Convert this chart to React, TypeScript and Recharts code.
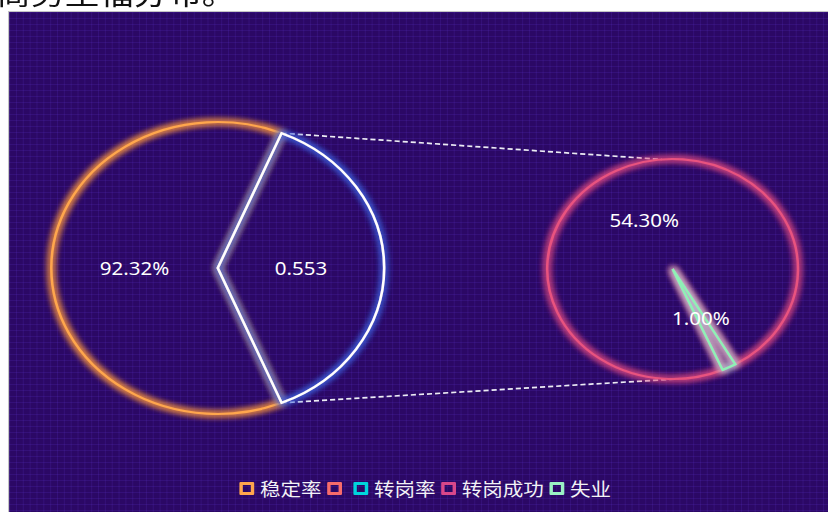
import React from "react";
import { PieChart, Pie, Cell, Legend, Customized } from "recharts";

// 岗位稳定情况（左）与转岗去向（右）
const stableNames = ["稳定率", "转岗率"];
const stableValues = [0.9232, 0.553];
const moveNames = ["转岗成功", "失业"];
const moveValues = [54.3, 1.0];

const legendNames = ["稳定率", "", "转岗率", "转岗成功", "失业"];
const legendColors = ["#ffa64d", "#f76b6b", "#00d4dc", "#d9478a", "#9af2c4"];

const stableStroke = ["#ffa64d", "#ffffff"];
const stableGlow = ["#ff9a3c", "#3d63e0"];
const moveStroke = ["#e8527f", "#8ff0b6"];
const moveGlow = ["#e04a80", "#b8b8cc"];

const stableData = stableNames.map((name, i) => ({ name, value: stableValues[i] }));
const moveData = moveNames.map((name, i) => ({ name, value: moveValues[i] }));

const W = 719;
const H = 500;
const SX = 1.14; // the whole picture is stretched horizontally
const LEFT = { cx: 183, cy: 256, r: 146 };
const RIGHT = { cx: 582, cy: 257, r: 110 };
const RAD = Math.PI / 180;
const FONT = "'Noto Sans', 'Noto Sans CJK SC', sans-serif";

const stableTotal = stableValues.reduce((a, b) => a + b, 0);
const whiteSpan = (360 * stableValues[1]) / stableTotal;
const leftStart = -whiteSpan / 2;
const rightStart = -66.5;

const glowIds = (prefix: string, colors: string[]) => colors.map((c, i) => [`${prefix}-${i}`, c]);
const allGlows = [...glowIds("gs", stableGlow), ...glowIds("gm", moveGlow)];

const Defs = () => (
  <defs>
    {allGlows.map(([id, color]) => (
      <filter key={id} id={id} filterUnits="userSpaceOnUse" x={0} y={0} width={W} height={H}>
        <feMorphology in="SourceAlpha" operator="dilate" radius={1} result="fat" />
        <feGaussianBlur in="fat" stdDeviation={3.4} result="blur" />
        <feFlood floodColor={color} floodOpacity={0.9} />
        <feComposite in2="blur" operator="in" result="glow" />
        <feMerge>
          <feMergeNode in="glow" />
          <feMergeNode in="glow" />
          <feMergeNode in="SourceGraphic" />
        </feMerge>
      </filter>
    ))}
  </defs>
);

const pt = (c: { cx: number; cy: number; r: number }, deg: number) => ({
  x: c.cx + c.r * Math.cos(deg * RAD),
  y: c.cy - c.r * Math.sin(deg * RAD),
});

// dashed lines from the white slice to the second pie
const Connectors = () => {
  const a = pt(LEFT, leftStart + whiteSpan);
  const b = pt(LEFT, leftStart);
  const c = pt(RIGHT, 95);
  const d = pt(RIGHT, -88);
  const line = { stroke: "#ececf4", strokeWidth: 1.7, strokeDasharray: "4.5 2.6" };
  return (
    <g>
      <line x1={a.x} y1={a.y} x2={c.x} y2={c.y} {...line} />
      <line x1={b.x} y1={b.y} x2={d.x} y2={d.y} {...line} />
    </g>
  );
};

const makeLabel = (fmt: (v: number, i: number) => string) => (p: any) => {
  const r = p.outerRadius * 0.5;
  const x = p.cx + r * Math.cos(-p.midAngle * RAD);
  const y = p.cy + r * Math.sin(-p.midAngle * RAD);
  return (
    <text x={x} y={y} fill="#ffffff" textAnchor="middle" dominantBaseline="central" fontSize={18} fontFamily={FONT}>
      {fmt(p.value, p.index)}
    </text>
  );
};

const stableLabel = makeLabel((v, i) => (i === 0 ? `${(v * 100).toFixed(2)}%` : String(v)));
const moveLabel = makeLabel((v) => `${v.toFixed(2)}%`);

const renderLegend = () => (
  <div style={{ display: "flex", justifyContent: "center", alignItems: "center" }}>
    {legendNames.map((n, i) => (
      <div key={i} style={{ display: "flex", alignItems: "center", marginRight: 5 }}>
        <span
          style={{
            display: "inline-block",
            width: 13,
            height: 13,
            boxSizing: "border-box",
            border: `3px solid ${legendColors[i]}`,
            borderRadius: 1,
          }}
        />
        <span style={{ marginLeft: 5, color: "#f2f2f6", fontSize: 18, lineHeight: "20px", fontFamily: "'Noto Sans CJK SC', sans-serif" }}>
          {n}
        </span>
      </div>
    ))}
  </div>
);

export default function App() {
  return (
    <div style={{ position: "absolute", left: 0, top: 0, width: 828 / SX, height: 512, transform: `scaleX(${SX})`, transformOrigin: "0 0" }}>
      <div
        style={{
          position: "absolute",
          left: -3,
          top: -24,
          fontSize: 30,
          lineHeight: "30px",
          color: "#111",
          fontFamily: "'Noto Sans CJK SC', sans-serif",
          whiteSpace: "nowrap",
        }}
      >
        商务型福分布。
      </div>
      <div
        style={{
          position: "absolute",
          left: 7,
          top: 11,
          width: W + 10,
          height: H + 10,
          borderTop: "1px solid #c4c4c4",
          borderLeft: "1px solid #c4c4c4",
          backgroundColor: "#2b0865",
          backgroundImage:
            "linear-gradient(rgba(90,50,200,0.2) 1px, transparent 1px), linear-gradient(90deg, rgba(90,50,200,0.2) 1px, transparent 1px)",
          backgroundSize: "6px 6px",
        }}
      >
        <PieChart width={W} height={H} margin={{ top: 0, right: 0, bottom: 0, left: 0 }}>
          <Customized component={Defs} />
          <Customized component={Connectors} />
          <Pie
            data={stableData}
            dataKey="value"
            nameKey="name"
            cx={LEFT.cx}
            cy={LEFT.cy}
            outerRadius={LEFT.r}
            startAngle={leftStart}
            endAngle={leftStart - 360}
            label={stableLabel}
            labelLine={false}
            isAnimationActive={false}
          >
            {stableData.map((_, i) => (
              <Cell key={i} fill="transparent" stroke={stableStroke[i]} strokeWidth={2.2} filter={`url(#gs-${i})`} />
            ))}
          </Pie>
          <Pie
            data={moveData}
            dataKey="value"
            nameKey="name"
            cx={RIGHT.cx}
            cy={RIGHT.cy}
            outerRadius={RIGHT.r}
            startAngle={rightStart}
            endAngle={rightStart - 360}
            label={moveLabel}
            labelLine={false}
            isAnimationActive={false}
          >
            {moveData.map((_, i) => (
              <Cell key={i} fill="transparent" stroke={moveStroke[i]} strokeWidth={2.2} filter={`url(#gm-${i})`} />
            ))}
          </Pie>
          <Legend content={renderLegend} verticalAlign="bottom" wrapperStyle={{ left: 8, top: 466, bottom: "auto", width: W }} />
        </PieChart>
      </div>
    </div>
  );
}
